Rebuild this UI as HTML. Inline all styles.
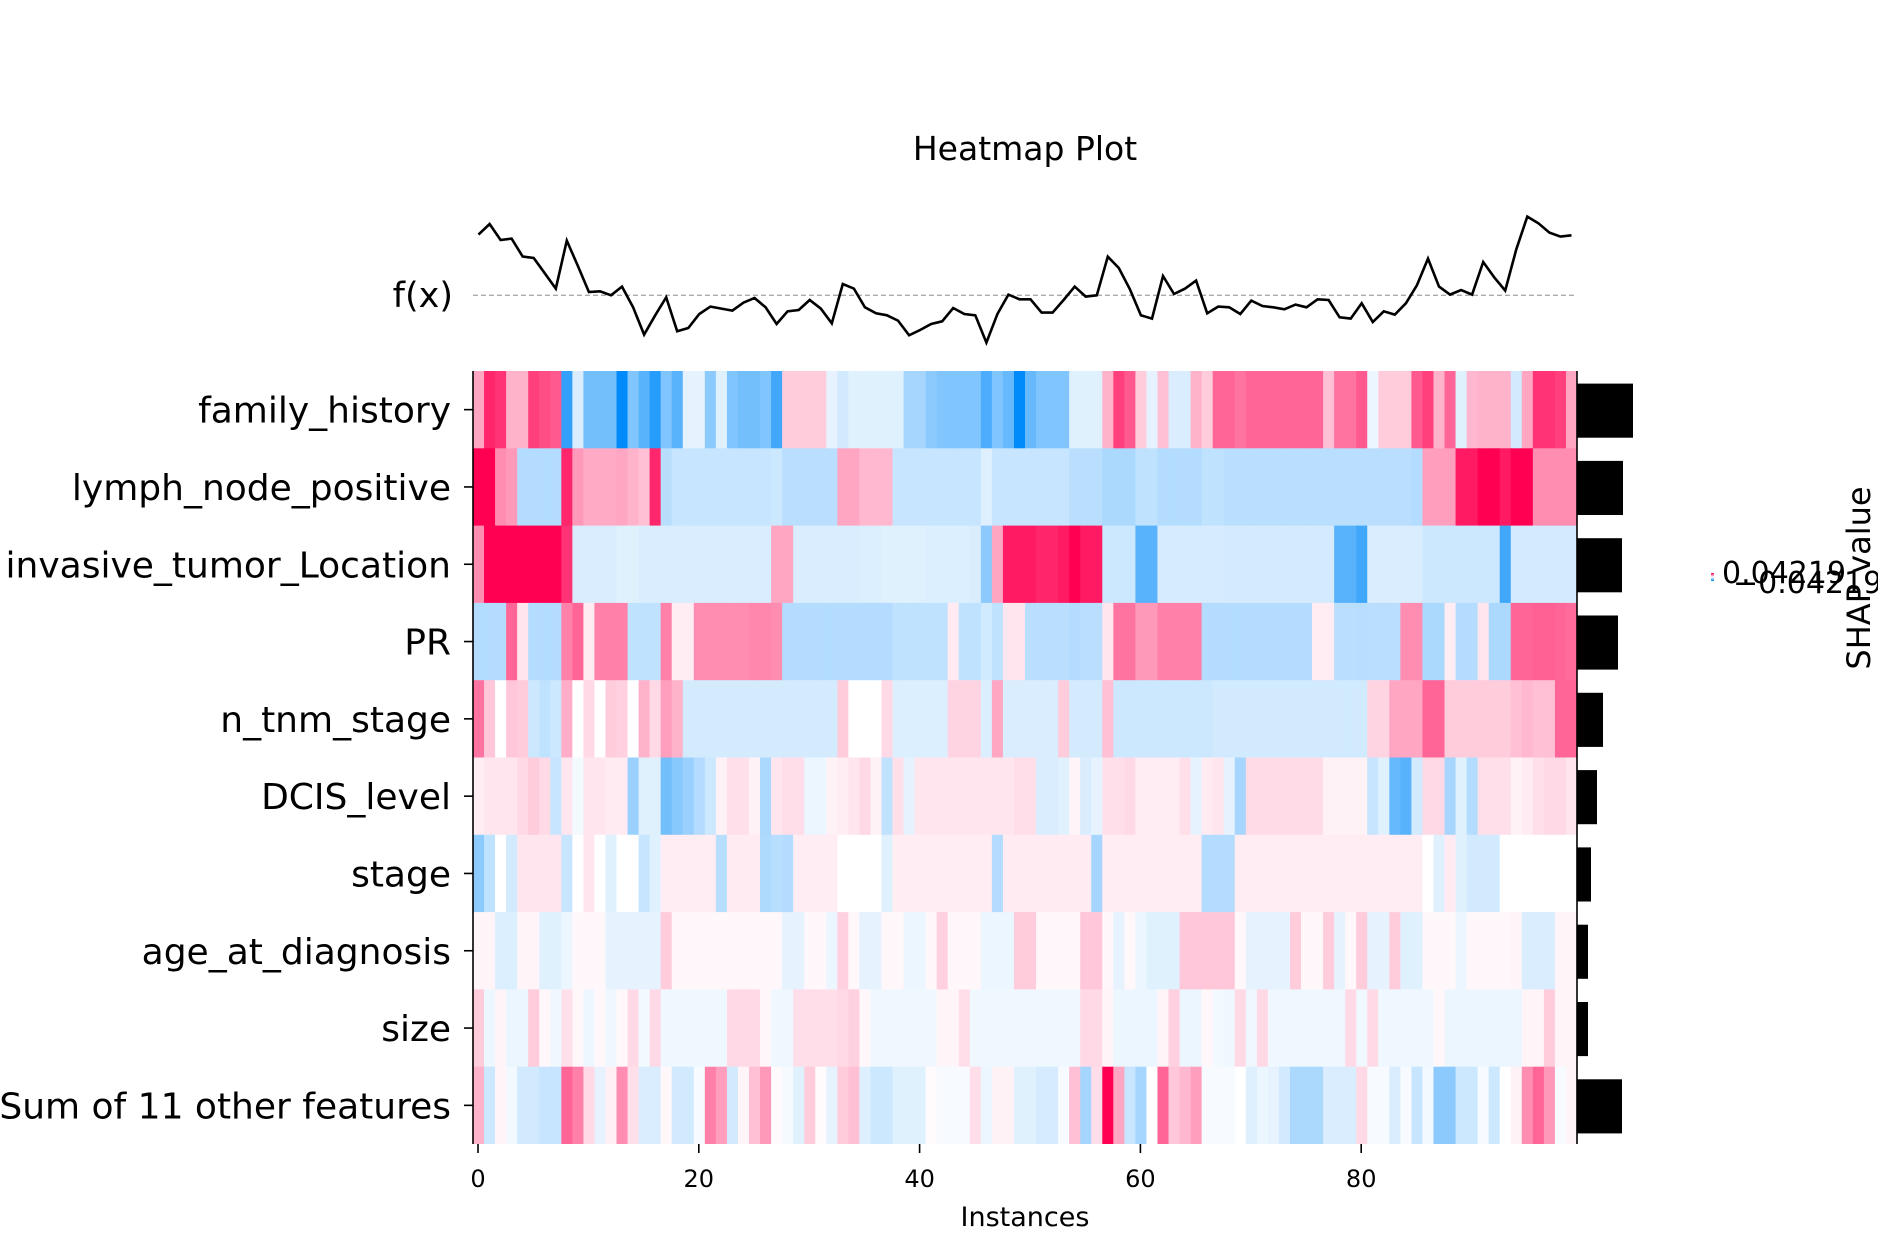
<!DOCTYPE html>
<html><head><meta charset="utf-8"><style>
html,body{margin:0;padding:0;background:#fff;}
svg text{font-family:"DejaVu Sans","Liberation Sans",sans-serif;fill:#000;}
</style></head><body>
<svg id="chart" width="1878" height="1232" viewBox="0 0 1878 1232" xmlns="http://www.w3.org/2000/svg">
<defs>
<linearGradient id="cbg" x1="0" y1="1" x2="0" y2="0"><stop offset="0" stop-color="#008bfa"/><stop offset="0.5" stop-color="#fff"/><stop offset="1" stop-color="#ff0052"/></linearGradient>
<clipPath id="hclip"><rect x="473" y="371" width="1104" height="773"/></clipPath>
</defs>
<rect width="1878" height="1232" fill="#fff"/>
<text x="1025" y="160" font-size="33" text-anchor="middle">Heatmap Plot</text>
<text x="453" y="307" font-size="35" text-anchor="end">f(x)</text>
<g id="heat" clip-path="url(#hclip)"></g>
<g id="fxg"></g>
<g id="axes"></g>
<g id="bars"></g>
<rect x="1711" y="573" width="3" height="8" fill="url(#cbg)"/>
<text x="1722" y="583" font-size="30">0.04219</text>
<text x="1733" y="593" font-size="30">−0.04219</text>
<text transform="translate(1870,578) rotate(-90)" font-size="32" text-anchor="middle">SHAP value</text>
<text x="1025" y="1226" font-size="27" text-anchor="middle">Instances</text>
</svg>
<script>
const features = ["family_history","lymph_node_positive","invasive_tumor_Location","PR","n_tnm_stage","DCIS_level","stage","age_at_diagnosis","size","Sum of 11 other features"];
const rowFamily = [0.35,0.85,0.8,0.3,0.3,0.75,0.7,0.65,-0.8,-0.15,-0.55,-0.55,-0.55,-1,-0.5,-0.65,-0.85,-0.5,-0.65,-0.1,-0.1,-0.45,-0.12,-0.5,-0.55,-0.55,-0.5,-0.75,0.2,0.2,0.2,0.2,-0.1,-0.18,-0.12,-0.12,-0.12,-0.12,-0.12,-0.35,-0.35,-0.45,-0.5,-0.5,-0.5,-0.5,-0.7,-0.5,-0.6,-1,-0.6,-0.5,-0.5,-0.5,-0.12,-0.12,-0.12,0.3,0.75,0.65,0.2,-0.1,0.25,-0.15,-0.15,0.3,0.2,0.6,0.6,0.55,0.6,0.6,0.6,0.6,0.6,0.6,0.6,0.25,0.55,0.55,0.65,-0.08,0.2,0.2,0.2,0.65,0.75,0.3,0.6,-0.12,0.28,0.3,0.3,0.3,-0.18,0.35,0.8,0.8,0.75,0.35];
const rowLymph = [1,1,0.45,0.4,-0.3,-0.3,-0.3,-0.3,0.85,0.4,0.33,0.33,0.33,0.35,0.3,0.25,0.85,-0.28,-0.22,-0.22,-0.22,-0.22,-0.22,-0.22,-0.22,-0.22,-0.22,-0.2,-0.27,-0.27,-0.27,-0.27,-0.27,0.35,0.35,0.28,0.28,0.28,-0.22,-0.22,-0.22,-0.22,-0.22,-0.22,-0.22,-0.22,-0.13,-0.22,-0.22,-0.22,-0.22,-0.22,-0.22,-0.22,-0.27,-0.27,-0.27,-0.33,-0.33,-0.33,-0.25,-0.25,-0.3,-0.3,-0.3,-0.3,-0.25,-0.25,-0.27,-0.27,-0.27,-0.27,-0.27,-0.27,-0.27,-0.27,-0.27,-0.27,-0.27,-0.27,-0.27,-0.27,-0.27,-0.27,-0.27,-0.3,0.38,0.38,0.38,0.9,0.9,1,1,0.9,1,1,0.45,0.45,0.45,0.45];
const rowInvasive = [0.45,1,1,1,1,1,1,1,0.8,-0.15,-0.15,-0.15,-0.15,-0.12,-0.12,-0.15,-0.15,-0.15,-0.15,-0.15,-0.15,-0.15,-0.15,-0.15,-0.15,-0.15,-0.15,0.35,0.35,-0.15,-0.15,-0.15,-0.15,-0.15,-0.15,-0.14,-0.14,-0.12,-0.12,-0.12,-0.12,-0.14,-0.14,-0.14,-0.14,-0.15,-0.45,0.35,0.9,0.9,0.9,0.85,0.85,0.9,1,0.9,0.9,-0.2,-0.2,-0.2,-0.65,-0.65,-0.16,-0.16,-0.16,-0.16,-0.16,-0.16,-0.17,-0.17,-0.17,-0.17,-0.17,-0.17,-0.17,-0.17,-0.17,-0.17,-0.65,-0.65,-0.75,-0.15,-0.15,-0.15,-0.15,-0.15,-0.2,-0.2,-0.2,-0.2,-0.2,-0.2,-0.2,-0.75,-0.17,-0.17,-0.17,-0.17,-0.17,-0.17];
const rowPR = [-0.3,-0.3,-0.3,0.6,0.1,-0.3,-0.3,-0.3,0.5,0.6,0.08,0.5,0.5,0.5,-0.25,-0.25,-0.25,0.5,0.07,0.07,0.45,0.45,0.45,0.45,0.45,0.47,0.47,0.45,-0.3,-0.3,-0.3,-0.3,-0.3,-0.3,-0.3,-0.3,-0.3,-0.3,-0.25,-0.25,-0.25,-0.25,-0.25,0.08,-0.25,-0.25,-0.18,-0.25,0.1,0.1,-0.27,-0.27,-0.27,-0.27,-0.3,-0.27,-0.27,0.1,0.55,0.55,0.4,0.4,0.5,0.5,0.5,0.5,-0.3,-0.3,-0.3,-0.3,-0.3,-0.3,-0.3,-0.3,-0.3,-0.3,0.07,0.07,-0.27,-0.27,-0.28,-0.27,-0.27,-0.27,0.45,0.45,-0.33,-0.33,0.07,-0.3,-0.3,0.1,-0.33,-0.33,0.6,0.6,0.62,0.62,0.6,0.58];
const rowNtnm = [0.55,0.22,0,0.22,0.2,-0.2,-0.25,-0.2,0.32,0,0.15,0,0.2,0.18,0,0.3,0.15,0.38,0.3,-0.17,-0.17,-0.17,-0.17,-0.17,-0.17,-0.17,-0.17,-0.17,-0.17,-0.17,-0.17,-0.17,-0.17,0.2,0,0,0,0.15,-0.14,-0.14,-0.14,-0.14,-0.14,0.17,0.17,0.17,-0.14,0.35,-0.15,-0.15,-0.15,-0.15,-0.15,0.2,-0.17,-0.17,-0.17,0.25,-0.2,-0.2,-0.2,-0.2,-0.2,-0.2,-0.2,-0.2,-0.2,-0.18,-0.18,-0.18,-0.18,-0.18,-0.18,-0.18,-0.18,-0.18,-0.18,-0.18,-0.18,-0.18,-0.18,0.17,0.17,0.35,0.35,0.35,0.6,0.6,0.2,0.2,0.2,0.2,0.2,0.2,0.25,0.28,0.25,0.25,0.6,0.6];
const rowDCIS = [0.07,0.1,0.1,0.1,0.15,0.2,0.15,-0.22,0.1,-0.05,0.1,0.1,0.08,0.08,-0.4,-0.12,-0.12,-0.55,-0.47,-0.4,-0.3,-0.2,0.05,0.12,0.12,0.05,-0.33,0.1,0.13,0.13,-0.08,-0.08,0.05,0.07,0.1,0.15,0.05,-0.25,0.12,-0.1,0.1,0.1,0.1,0.1,0.1,0.1,0.1,0.1,0.1,0.13,0.13,-0.15,-0.15,-0.12,0.04,-0.15,-0.1,0.12,0.12,0.15,0.07,0.07,0.07,0.07,0.12,-0.1,0.08,0.1,-0.1,-0.35,0.14,0.14,0.14,0.14,0.14,0.14,0.14,0.05,0.05,0.05,0.05,-0.22,-0.12,-0.6,-0.65,-0.18,0.15,0.15,-0.35,-0.12,-0.3,0.12,0.12,0.12,0.05,0.08,0.12,0.15,0.15,0.1];
const rowStage = [-0.45,-0.25,0,-0.18,0.1,0.1,0.1,0.1,-0.22,0,0.1,0,-0.12,0,0,-0.22,-0.12,0.07,0.07,0.07,0.07,0.07,-0.28,0.08,0.08,0.08,-0.32,-0.28,-0.3,0.07,0.07,0.07,0.07,0,0,0,0,-0.12,0.07,0.07,0.07,0.07,0.07,0.07,0.07,0.07,0.07,-0.3,0.08,0.08,0.08,0.08,0.08,0.08,0.08,0.08,-0.35,0.07,0.07,0.07,0.07,0.07,0.07,0.07,0.07,0.07,-0.3,-0.3,-0.3,0.07,0.07,0.07,0.07,0.07,0.07,0.07,0.07,0.07,0.07,0.07,0.07,0.07,0.07,0.07,0.07,0.07,0,-0.12,0.08,-0.12,-0.18,-0.18,-0.18,0,0,0,0,0,0,0];
const rowAge = [0.04,0.04,-0.14,-0.14,0.04,0.04,-0.12,-0.12,-0.08,0.03,0.03,0.03,-0.1,-0.1,-0.1,-0.1,-0.1,0.2,0.03,0.03,0.03,0.03,0.03,0.03,0.03,0.03,0.03,0.03,-0.1,-0.1,0.03,0.03,-0.08,0.18,0.03,-0.1,-0.1,0.03,0.03,-0.08,-0.08,0.03,0.18,0.03,0.03,0.03,-0.08,-0.08,-0.08,0.2,0.2,0.03,0.03,0.03,0.03,0.22,0.22,0.03,-0.1,0.03,-0.08,-0.12,-0.12,-0.12,0.22,0.22,0.22,0.22,0.22,0.03,-0.1,-0.1,-0.1,-0.1,0.2,0.03,0.03,0.2,-0.1,0.03,0.2,-0.1,-0.1,0.2,-0.12,-0.12,0.03,0.03,0.03,-0.08,0.03,0.03,0.03,0.03,0.04,-0.15,-0.15,-0.15,0.04,0.04];
const rowSize = [0.2,-0.07,0.04,-0.08,-0.08,0.2,0.03,-0.06,0.12,0.03,-0.07,0.03,-0.06,0.03,0.15,-0.05,0.15,-0.06,-0.06,-0.06,-0.06,-0.06,-0.06,0.15,0.15,0.15,0.03,-0.06,-0.06,0.13,0.13,0.13,0.13,0.15,0.18,0.03,-0.06,-0.06,-0.06,-0.06,-0.06,-0.06,0.04,0.04,0.13,-0.06,-0.06,-0.06,-0.06,-0.06,-0.06,-0.06,-0.06,-0.06,-0.06,0.15,0.15,0.04,-0.08,-0.08,-0.08,-0.08,0.04,0.18,-0.08,-0.08,0.03,-0.05,-0.06,0.15,-0.06,0.15,-0.06,-0.06,-0.06,-0.06,-0.06,-0.06,-0.06,0.15,-0.06,0.15,-0.06,-0.06,-0.06,-0.06,-0.06,0.03,-0.08,-0.08,-0.08,-0.08,-0.08,-0.08,-0.08,0.04,0.04,0.2,0.04,0.04,0.2];
const rowOther = [0.3,-0.2,0.04,-0.05,-0.18,-0.18,-0.22,-0.22,0.6,0.5,0.15,-0.1,0.06,0.45,0.12,-0.15,-0.15,0.03,-0.18,-0.18,-0.03,0.5,0.38,-0.18,0.04,0.25,0.4,0.02,-0.04,-0.12,0.2,0.02,-0.1,0.2,0.25,-0.13,-0.2,-0.2,-0.12,-0.12,-0.12,0.02,-0.03,-0.03,-0.03,0.13,-0.08,0.05,0.05,-0.12,-0.12,-0.16,-0.16,-0.03,0.25,-0.35,0.13,1,0.35,-0.22,-0.35,0,0.6,0.22,0.28,0.38,-0.03,-0.03,-0.03,0,-0.13,-0.08,-0.1,-0.18,-0.33,-0.33,-0.33,-0.15,-0.15,-0.15,0.15,-0.03,-0.03,-0.15,-0.03,-0.22,-0.05,-0.45,-0.45,-0.2,-0.2,-0.03,-0.2,0,0.05,0.45,0.6,0.4,-0.03,0.04];
const heatRows = [rowFamily,rowLymph,rowInvasive,rowPR,rowNtnm,rowDCIS,rowStage,rowAge,rowSize,rowOther];
const importance = [0.056,0.046,0.045,0.041,0.026,0.020,0.014,0.011,0.011,0.045];
const fx = [1.82,2.14,1.66,1.70,1.16,1.12,0.66,0.20,1.64,0.88,0.10,0.12,0.00,0.26,-0.36,-1.18,-0.60,-0.06,-1.08,-0.98,-0.56,-0.34,-0.40,-0.46,-0.22,-0.08,-0.36,-0.86,-0.48,-0.44,-0.14,-0.40,-0.84,0.34,0.20,-0.36,-0.54,-0.60,-0.76,-1.20,-1.04,-0.86,-0.78,-0.38,-0.56,-0.60,-1.42,-0.56,0.02,-0.12,-0.12,-0.52,-0.52,-0.14,0.26,-0.04,0.00,1.16,0.82,0.18,-0.60,-0.70,0.58,0.04,0.20,0.44,-0.54,-0.34,-0.36,-0.56,-0.16,-0.32,-0.36,-0.42,-0.28,-0.36,-0.12,-0.14,-0.66,-0.70,-0.24,-0.80,-0.48,-0.58,-0.24,0.30,1.10,0.26,0.02,0.16,0.02,1.00,0.54,0.14,1.38,2.36,2.16,1.88,1.76,1.80];
const xTicks = [0,20,40,60,80];

const NS = "http://www.w3.org/2000/svg";
const X0 = 473, X1 = 1577, Y0 = 371, Y1 = 1144;
const N = fx.length;
const cw = (X1 - X0) / N, rh = (Y1 - Y0) / features.length;
function xCell(i){ return X0 + i * cw; }
function xCenter(i){ return X0 + (i + 0.5) * cw; }
function yRow(r){ return Y0 + r * rh; }
function yF(v){ return 295.3 - v * 33.33; }
function wBar(v){ return v * 1000; }
function color(v){
  v = Math.max(-1, Math.min(1, v));
  let t = Math.abs(v), c = v >= 0 ? [255,0,82] : [0,138,250];
  const m = k => Math.round(255 + (c[k] - 255) * t);
  return `rgb(${m(0)},${m(1)},${m(2)})`;
}
function mk(tag, attrs, parent){
  const e = document.createElementNS(NS, tag);
  for (const k in attrs) e.setAttribute(k, attrs[k]);
  parent.appendChild(e); return e;
}
const heat = document.getElementById('heat');
heatRows.forEach((row, r) => {
  row.forEach((v, i) => {
    const el = mk('rect', {x: xCell(i), y: yRow(r), width: cw + 0.6, height: rh + 0.6, fill: color(v)}, heat);
    
    
  });
});
const fxg = document.getElementById('fxg');
const base = mk('line', {x1: X0, x2: X1, y1: yF(0), y2: yF(0), stroke: '#aaa', 'stroke-width': 1.3, 'stroke-dasharray': '5,3'}, fxg);


const pts = fx.map((v, i) => xCenter(i).toFixed(1) + ',' + yF(v).toFixed(1)).join(' ');
const pl = mk('polyline', {points: pts, fill: 'none', stroke: '#000', 'stroke-width': 2.6, 'stroke-linejoin': 'miter'}, fxg);


const axes = document.getElementById('axes');
const ls = mk('line', {x1: X0, x2: X0, y1: Y0, y2: Y1, stroke: '#000', 'stroke-width': 1.6}, axes);


const rs = mk('line', {x1: X1, x2: X1, y1: Y0, y2: Y1, stroke: '#000', 'stroke-width': 1.6}, axes);


features.forEach((f, r) => {
  const cy = yRow(r) + rh / 2;
  const t = mk('line', {x1: X0 - 9, x2: X0, y1: cy, y2: cy, stroke: '#000', 'stroke-width': 1.6}, axes);
  
  
  const tx = mk('text', {x: 451, y: cy + 13, 'font-size': 36, 'text-anchor': 'end'}, axes);
  tx.textContent = f;
  
  
});
xTicks.forEach(k => {
  const x = xCenter(k) - cw / 2 + 5;
  const t = mk('line', {x1: x, x2: x, y1: Y1, y2: Y1 + 9, stroke: '#000', 'stroke-width': 1.6}, axes);
  
  
  const tx = mk('text', {x: x, y: 1187, 'font-size': 24, 'text-anchor': 'middle'}, axes);
  tx.textContent = String(k);
  
  
});
const bars = document.getElementById('bars');
importance.forEach((v, r) => {
  const bh = rh * 0.7;
  const b = mk('rect', {x: X1, y: yRow(r) + (rh - bh) / 2 + 1, width: wBar(v), height: bh, fill: '#000'}, bars);
  
  
});
</script>
</body></html>
